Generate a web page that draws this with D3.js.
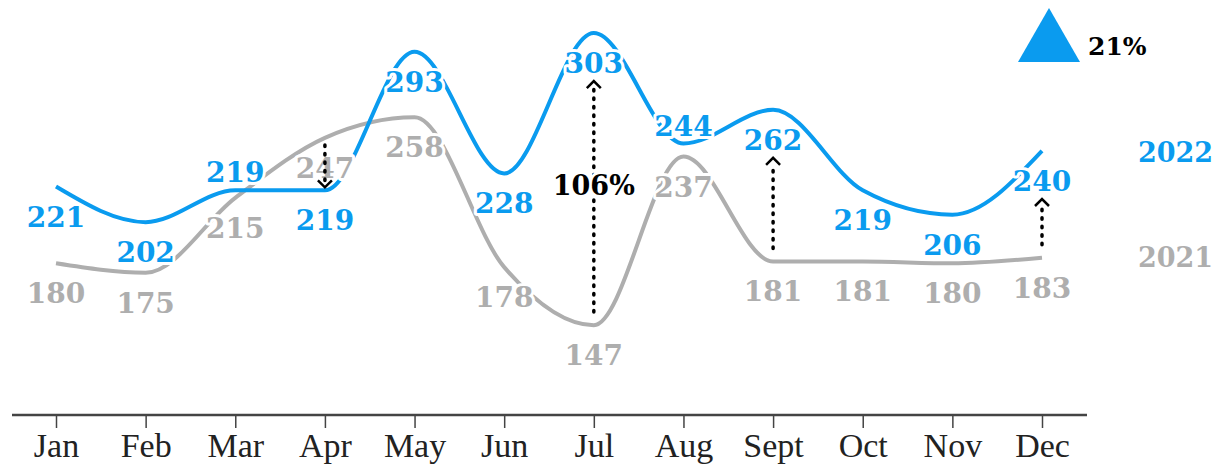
<!DOCTYPE html>
<html>
<head>
<meta charset="utf-8">
<script src="https://cdn.jsdelivr.net/npm/d3@7"></script>
<style>
  body { margin: 0; background: #fff; }
  svg { display: block; }
</style>
</head>
<body>
<div id="chart"></div>
<script>
// data
const months = ["Jan", "Feb", "Mar", "Apr", "May", "Jun", "Jul", "Aug", "Sept", "Oct", "Nov", "Dec"];
const values2022 = [221, 202, 219, 219, 293, 228, 303, 244, 262, 219, 206, 240];
const values2021 = [180, 175, 215, 247, 258, 178, 147, 237, 181, 181, 180, 183];
// where each 2022 label sits relative to its point
const labelSide2022 = ["below", "below", "above", "below", "below", "below", "below", "above", "below", "below", "below", "below"];
const arrowMonths = ["Apr", "Jul", "Sept", "Dec"];
const bigChangeMonth = "Jul";
const bigChangeText = "106%";
const yearChangeText = "21%";
const seriesNames = ["2022", "2021"];

const blue = "#0a9bef";
const grey = "#aeaeae";
const labelFont = "DejaVu Serif";

const width = 1226, height = 468;

const svg = d3.select("#chart")
    .append("svg")
    .attr("width", width)
    .attr("height", height);

// scales
const x = d3.scalePoint()
    .domain(months)
    .range([56, 1042]);

const y = d3.scaleLinear()
    .domain([99, 320])
    .range([415, 1.2]);

// x axis
const axis = svg.append("g")
    .attr("transform", "translate(0,415)")
    .call(d3.axisBottom(x).tickSize(13).tickSizeOuter(0));

axis.select(".domain").remove();
axis.append("line")
    .attr("x1", 12)
    .attr("x2", 1087)
    .attr("stroke", "#444")
    .attr("stroke-width", 2.5);
axis.selectAll(".tick line")
    .attr("stroke", "#444")
    .attr("stroke-width", 1.5);
axis.selectAll(".tick text")
    .attr("y", 42)
    .attr("dy", 0)
    .attr("fill", "#222")
    .style("font-family", "Liberation Serif")
    .style("font-size", "34px");

// lines
const line = d3.line()
    .x((d, i) => x(months[i]))
    .y(d => y(d))
    .curve(d3.curveMonotoneX);

svg.append("path")
    .datum(values2021)
    .attr("d", line)
    .attr("fill", "none")
    .attr("stroke", grey)
    .attr("stroke-width", 4);

svg.append("path")
    .datum(values2022)
    .attr("d", line)
    .attr("fill", "none")
    .attr("stroke", blue)
    .attr("stroke-width", 4);

// value labels with a white halo, they cut through the lines
function haloText(sel) {
    sel.attr("text-anchor", "middle")
        .style("font-family", labelFont)
        .style("font-weight", "bold")
        .style("font-size", "28px")
        .attr("stroke", "#fff")
        .attr("stroke-width", 6)
        .attr("stroke-linejoin", "round")
        .attr("paint-order", "stroke");
}

svg.append("g")
    .selectAll("text")
    .data(values2021)
    .enter()
    .append("text")
    .attr("x", (d, i) => x(months[i]))
    .attr("y", d => y(d) + 40)
    .attr("fill", grey)
    .text(d => d)
    .call(haloText);

svg.append("g")
    .selectAll("text")
    .data(values2022)
    .enter()
    .append("text")
    .attr("x", (d, i) => x(months[i]))
    .attr("y", (d, i) => labelSide2022[i] === "above" ? y(d) - 8 : y(d) + 40)
    .attr("fill", blue)
    .text(d => d)
    .call(haloText);

// dotted arrows from 2021 to 2022
const arrows = svg.append("g");
arrowMonths.forEach(m => {
    const i = months.indexOf(m);
    const y0 = y(values2021[i]);
    const y1 = y(values2022[i]);
    const up = y1 < y0;
    const start = up ? y0 - 13 : y0 + 7;
    const end = up ? y1 + 48 : y1 - 3;
    const xx = x(m);
    arrows.append("line")
        .attr("x1", xx).attr("x2", xx)
        .attr("y1", start).attr("y2", end + (up ? 6 : -6))
        .attr("stroke", "#000")
        .attr("stroke-width", 3.5)
        .attr("stroke-linecap", "round")
        .attr("stroke-dasharray", "1.5,7");
    const dir = up ? 1 : -1;
    arrows.append("path")
        .attr("d", `M${xx - 7},${end + dir * 7}L${xx},${end}L${xx + 7},${end + dir * 7}`)
        .attr("fill", "none")
        .attr("stroke", "#000")
        .attr("stroke-width", 2.5);
});

// big change label on the July arrow
svg.append("text")
    .attr("x", x(bigChangeMonth))
    .attr("y", 195)
    .attr("fill", "#000")
    .text(bigChangeText)
    .call(haloText)
    .style("font-size", "27px");

// series names on the right
svg.append("text")
    .attr("x", 1138).attr("y", 162)
    .attr("fill", blue)
    .style("font-family", labelFont)
    .style("font-weight", "bold")
    .style("font-size", "27px")
    .text(seriesNames[0]);

svg.append("text")
    .attr("x", 1138).attr("y", 267)
    .attr("fill", grey)
    .style("font-family", labelFont)
    .style("font-weight", "bold")
    .style("font-size", "27px")
    .text(seriesNames[1]);

// yearly change marker
svg.append("path")
    .attr("d", "M1049,8L1080,62L1018,62Z")
    .attr("fill", blue);

svg.append("text")
    .attr("x", 1088).attr("y", 55)
    .attr("fill", "#000")
    .style("font-family", labelFont)
    .style("font-weight", "bold")
    .style("font-size", "25px")
    .text(yearChangeText);
</script>
</body>
</html>
